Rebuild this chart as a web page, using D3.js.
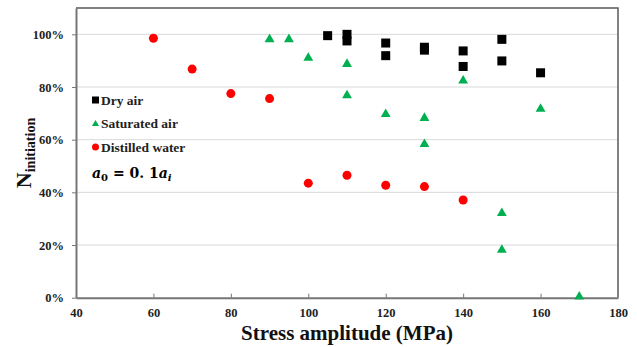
<!DOCTYPE html>
<html><head><meta charset="utf-8">
<script src="https://cdn.jsdelivr.net/npm/d3@7"></script>
<style>body{margin:0;background:#fff}svg{display:block}
svg text{font-family:"Liberation Serif","Times New Roman",serif;font-weight:bold}</style>
</head><body>
<svg id="c" width="637" height="347"></svg>
<script>
const xTicks = [40, 60, 80, 100, 120, 140, 160, 180];
const yTicks = [0, 0.2, 0.4, 0.6, 0.8, 1.0];
const dryX = [105, 110, 110, 120, 120, 130, 130, 140, 140, 150, 150, 160];
const dryY = [0.995, 1.0, 0.975, 0.967, 0.919, 0.951, 0.940, 0.937, 0.878, 0.981, 0.899, 0.854];
const satX = [90, 95, 100, 110, 110, 120, 130, 130, 140, 150, 150, 160, 170];
const satY = [0.985, 0.985, 0.914, 0.891, 0.772, 0.701, 0.686, 0.587, 0.828, 0.325, 0.185, 0.721, 0.008];
const watX = [60, 70, 80, 90, 100, 110, 120, 130, 140];
const watY = [0.985, 0.868, 0.775, 0.756, 0.435, 0.465, 0.427, 0.422, 0.371];
const legendLabels = ["Dry air", "Saturated air", "Distilled water"];

const SERIF = '"Liberation Serif", "Times New Roman", serif';
const svg = d3.select("#c");
const L = 76, R = 618, T = 8, B = 297.7;
const x = d3.scaleLinear().domain([40, 180]).range([L, R]);
const y = d3.scaleLinear().domain([0, 1.1]).range([B, T]);

// grid
svg.append("g").selectAll("line").data(yTicks.filter(d => d > 0)).join("line")
  .attr("x1", L).attr("x2", R).attr("y1", d => y(d)).attr("y2", d => y(d))
  .attr("stroke", "#d9d9d9").attr("stroke-width", 1);

// frame top/right
svg.append("path").attr("d", `M${L},${T}H${R}V${B}`).attr("fill", "none")
  .attr("stroke", "#595959").attr("stroke-width", 1.5);

// axes
const xAxis = svg.append("g").attr("transform", `translate(0,${B})`)
  .call(d3.axisBottom(x).tickValues(xTicks).tickSizeInner(-4).tickSizeOuter(0).tickPadding(10));
const yAxis = svg.append("g").attr("transform", `translate(${L},0)`)
  .call(d3.axisLeft(y).tickValues(yTicks).tickSizeInner(4).tickSizeOuter(0).tickPadding(8).tickFormat(d3.format(".0%")));
[xAxis, yAxis].forEach(a => {
  a.attr("font-family", null).attr("font-size", null);
  a.select(".domain").attr("stroke", "#767676").attr("stroke-width", 2);
  a.selectAll(".tick line").attr("stroke", "#767676").attr("stroke-width", 1);
  a.selectAll("text").style("font-family", SERIF).style("font-weight", "bold")
    .style("font-size", "12.5px").attr("fill", "#222");
});
xAxis.selectAll(".tick").filter(d => d === 40 || d === 180).select("line").remove();

// marks
const tri = d3.symbol().type(d3.symbolTriangle).size(42);
svg.append("g").selectAll("path").data(satX.map((v, i) => [v, satY[i]])).join("path")
  .attr("d", tri).attr("transform", d => `translate(${x(d[0])},${y(d[1]) + 1})`).attr("fill", "#00b050");
svg.append("g").selectAll("rect").data(dryX.map((v, i) => [v, dryY[i]])).join("rect")
  .attr("x", d => x(d[0]) - 4.5).attr("y", d => y(d[1]) - 4.5).attr("width", 9).attr("height", 9).attr("fill", "#000");
svg.append("g").selectAll("circle").data(watX.map((v, i) => [v, watY[i]])).join("circle")
  .attr("cx", d => x(d[0])).attr("cy", d => y(d[1])).attr("r", 4.5).attr("fill", "#ff0000");

// legend
const lg = svg.append("g");
const ly = [100, 123.5, 147];
lg.append("rect").attr("x", 92).attr("y", ly[0] - 3.5).attr("width", 7).attr("height", 7).attr("fill", "#000");
lg.append("path").attr("d", d3.symbol().type(d3.symbolTriangle).size(22)).attr("transform", `translate(95.5,${ly[1] + 0.5})`).attr("fill", "#00b050");
lg.append("circle").attr("cx", 95.5).attr("cy", ly[2]).attr("r", 3.5).attr("fill", "#ff0000");
lg.selectAll("text").data(legendLabels).join("text")
  .attr("x", 101).attr("y", (d, i) => ly[i] + 4.5).text(d => d)
  .style("font-family", SERIF).style("font-weight", "bold")
  .style("font-size", "13.5px").attr("fill", "#222");

// formula
const f = svg.append("text").attr("x", 92).attr("y", 178).style("font-family", '"DejaVu Serif", serif')
  .style("font-weight", "bold").style("font-size", "14px").attr("fill", "#000");
f.append("tspan").style("font-style", "italic").text("a");
f.append("tspan").style("font-size", "10px").attr("dy", 3).text("0");
f.append("tspan").attr("dy", -3).text(" = 0. 1");
f.append("tspan").style("font-style", "italic").text("a");
f.append("tspan").style("font-style", "italic").style("font-size", "10px").attr("dy", 3).text("i");

// axis titles
svg.append("text").attr("x", 347).attr("y", 340).attr("text-anchor", "middle")
  .style("font-family", SERIF).style("font-weight", "bold")
  .style("font-size", "21px").attr("fill", "#111")
  .text("Stress amplitude (MPa)");
const yt = svg.append("text").attr("transform", "translate(31,153) rotate(-90)").attr("text-anchor", "middle")
  .style("font-family", SERIF).style("font-weight", "bold").attr("fill", "#111");
yt.append("tspan").style("font-size", "22px").text("N");
yt.append("tspan").style("font-size", "14px").attr("dy", 4).text("initiation");
</script>
</body></html>
